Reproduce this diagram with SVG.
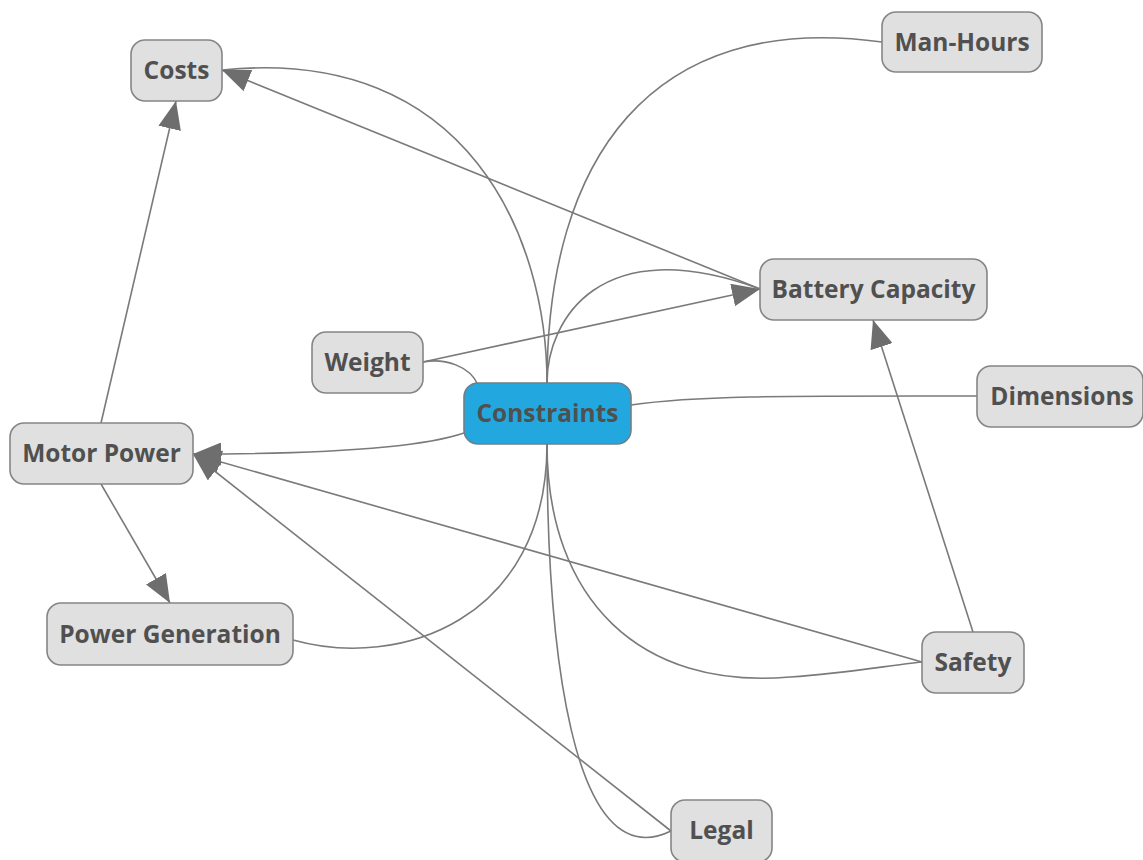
<svg xmlns="http://www.w3.org/2000/svg" width="1143" height="860" viewBox="0 0 1143 860">
<defs>
<marker id="arr" markerUnits="userSpaceOnUse" markerWidth="28" markerHeight="23" refX="28" refY="11.5" orient="auto" viewBox="0 0 28 23">
<path d="M0,0 L28,11.5 L0,23 z" fill="#6e6e6e"/>
</marker>
<style>
.e{fill:none;stroke:#7a7a7a;stroke-width:1.6}
.n rect{fill:#e0e0e0;stroke:#858585;stroke-width:1.6}
.n text{font-family:"Open Sans","Noto Sans",sans-serif;font-weight:bold;font-size:24.5px;fill:#505050;text-anchor:middle;dominant-baseline:central}
#constraints rect{fill:#22a8df;stroke:#6f7f88}
</style>
</defs>
<rect width="1143" height="860" fill="#ffffff"/>
<g id="connectors">
<path class="e" d="M547,383 C547,240 470,45 222,70"/>
<path class="e" d="M547,383 C547,160 650,10 882,42"/>
<path class="e" d="M547,383 C547,320 600,230 760,289"/>
<path class="e" d="M423,362 L760,289" marker-end="url(#arr)"/>
<path class="e" d="M423,362 C445,358 470,366 478,385"/>
<path class="e" d="M760,289 L222,70" marker-end="url(#arr)"/>
<path class="e" d="M631,405 C700,395 800,396 977,396"/>
<path class="e" d="M464,433 C420,448 320,454 193,454" marker-end="url(#arr)"/>
<path class="e" d="M101,423 L176,101" marker-end="url(#arr)"/>
<path class="e" d="M101,484 L170,603" marker-end="url(#arr)"/>
<path class="e" d="M293,640 C400,670 547,620 547,444"/>
<path class="e" d="M922,662 L193,454" marker-end="url(#arr)"/>
<path class="e" d="M671,831 L193,454" marker-end="url(#arr)"/>
<path class="e" d="M547,444 C547,600 640,690 790,677 C850,673 890,665 922,662"/>
<path class="e" d="M547,444 C547,640 570,880 671,831"/>
<path class="e" d="M973,632 L873,320" marker-end="url(#arr)"/>
</g>
<g id="costs" class="n"><rect x="131" y="40" width="91" height="61" rx="14"/><text x="176.5" y="69">Costs</text></g>
<g id="man-hours" class="n"><rect x="882" y="12" width="160" height="60" rx="14"/><text x="962" y="41">Man-Hours</text></g>
<g id="battery-capacity" class="n"><rect x="760" y="259" width="227" height="61" rx="14"/><text x="873.5" y="288">Battery Capacity</text></g>
<g id="weight" class="n"><rect x="312" y="332" width="111" height="61" rx="14"/><text x="367.5" y="361">Weight</text></g>
<g id="constraints" class="n"><rect x="464" y="383" width="167" height="61" rx="14"/><text x="547.5" y="412">Constraints</text></g>
<g id="dimensions" class="n"><rect x="977" y="366" width="166" height="61" rx="14"/><text x="1062" y="395">Dimensions</text></g>
<g id="motor-power" class="n"><rect x="10" y="423" width="183" height="61" rx="14"/><text x="101.5" y="452">Motor Power</text></g>
<g id="power-generation" class="n"><rect x="47" y="603" width="246" height="62" rx="14"/><text x="170" y="633">Power Generation</text></g>
<g id="safety" class="n"><rect x="922" y="632" width="102" height="61" rx="14"/><text x="973" y="661">Safety</text></g>
<g id="legal" class="n"><rect x="671" y="800" width="101" height="62" rx="14"/><text x="721.5" y="829">Legal</text></g>
</svg>
